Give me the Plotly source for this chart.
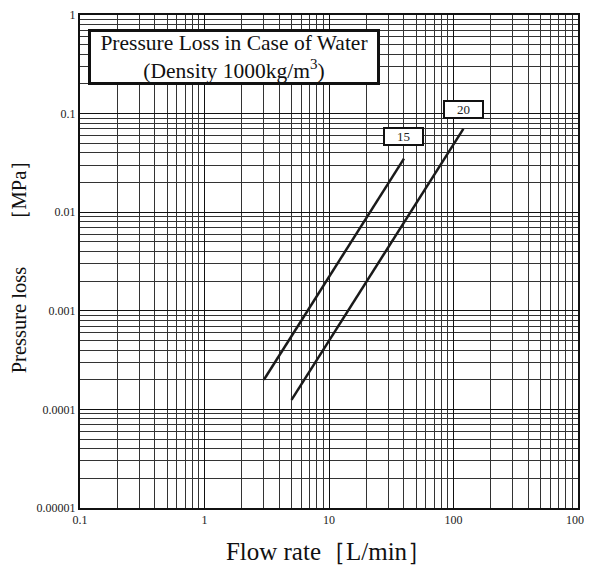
import math
import plotly.graph_objects as go

# ---- data ----
flow_15 = [3, 40]
loss_15 = [0.0002, 0.035]
flow_20 = [5, 120]
loss_20 = [0.000125, 0.07]
series_names = ["15", "20"]

x_tickvals = [0.1, 1, 10, 100, 1000]
x_ticktext = ["0.1", "1", "10", "100", "1000"]
y_tickvals = [0.00001, 0.0001, 0.001, 0.01, 0.1, 1]
y_ticktext = ["0.00001", "0.0001", "0.001", "0.01", "0.1", "1"]

title_line1 = "Pressure Loss in Case of Water"
title_line2 = "(Density 1000kg/m<sup>3</sup>)"
x_title = "Flow rate［L/min］"
y_title = "Pressure loss\u3000   ［MPa］"

FONT = "Liberation Serif, Times New Roman, serif"
label_shift = {"15": 13, "20": 10}

fig = go.Figure()
for fx, fy, name in [(flow_15, loss_15, series_names[0]), (flow_20, loss_20, series_names[1])]:
    fig.add_trace(go.Scatter(x=fx, y=fy, mode="lines", name=name,
                             line=dict(color="#1a1a1a", width=2.5), showlegend=False))
    # log axes: annotation positions are log10 of the data values
    fig.add_annotation(x=math.log10(fx[-1]), y=math.log10(fy[-1]), xref="x", yref="y",
                       text=name, showarrow=False, yanchor="bottom", yshift=label_shift[name],
                       font=dict(family=FONT, size=13, color="#222"),
                       bordercolor="#111", borderwidth=2, borderpad=1,
                       bgcolor="white", width=35, height=13)

fig.add_annotation(xref="paper", yref="paper", x=0.016, y=0.972,
                   xanchor="left", yanchor="top", showarrow=False,
                   text=title_line1 + "<br>" + title_line2,
                   font=dict(family=FONT, size=21.5, color="#111"),
                   bordercolor="#111", borderwidth=3, borderpad=0,
                   bgcolor="white", width=286, height=50, align="center")

axis_common = dict(
    showline=True, linewidth=2, linecolor="#111", mirror=True,
    showgrid=True, gridcolor="#111", gridwidth=1,
    ticks="", tickfont=dict(family=FONT, size=12, color="#222"),
    zeroline=False, automargin=False, ticklabeloverflow="allow",
)

fig.update_xaxes(type="log", range=[-1, 3], tickvals=x_tickvals, ticktext=x_ticktext,
                 minor=dict(dtick="D1", showgrid=True, gridcolor="#333", gridwidth=1),
                 title=dict(text=x_title, font=dict(family=FONT, size=25, color="#111"), standoff=17),
                 **axis_common)
fig.update_yaxes(type="log", range=[-5, 0], tickvals=y_tickvals, ticktext=y_ticktext,
                 minor=dict(dtick="D1", showgrid=True, gridcolor="#333", gridwidth=1),
                 title=dict(text=y_title, font=dict(family=FONT, size=20.5, color="#111"), standoff=5),
                 **axis_common)

# the page body has an 8px margin, so the figure is offset by (8, 8)
fig.update_layout(width=584, height=557, margin=dict(l=72, r=14, t=7, b=57),
                  paper_bgcolor="white", plot_bgcolor="white",
                  font=dict(family=FONT))

fig.write_html("out.html")
